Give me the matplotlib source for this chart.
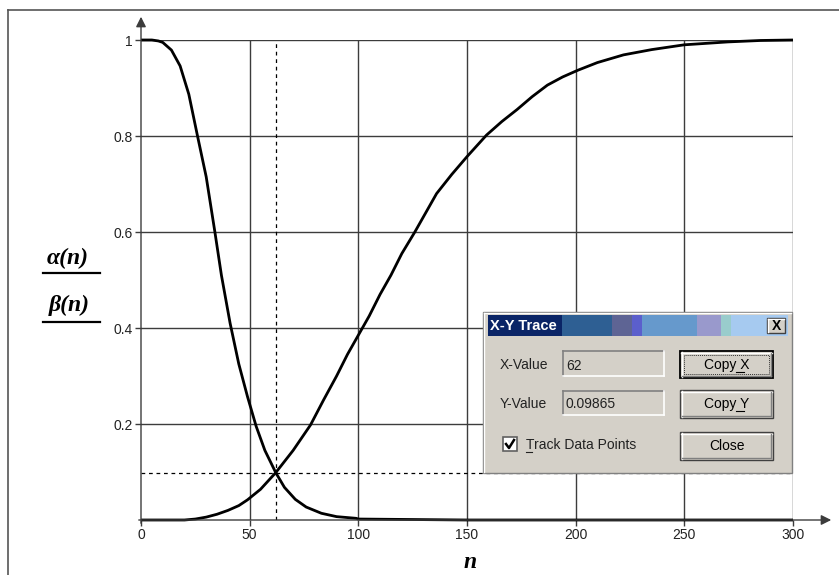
import matplotlib
matplotlib.use("Agg")
import matplotlib.pyplot as plt
from matplotlib.patches import Rectangle, FancyArrowPatch

# ---- data ----
n_alpha = [0, 5, 8, 10, 14, 18, 22, 26, 30, 34, 37, 41, 45, 49, 53, 57, 62, 66, 71, 76,
           83, 90, 99, 100, 150, 200, 250, 300]
alpha = [1.0, 1.0, 0.998, 0.995, 0.979, 0.946, 0.887, 0.80, 0.715, 0.60, 0.51, 0.41,
         0.325, 0.257, 0.195, 0.145, 0.0987, 0.068, 0.043, 0.027, 0.014, 0.007, 0.0035,
         0.002, 0.0, 0.0, 0.0, 0.0]
n_beta = [0, 20, 25, 30, 35, 40, 45, 49, 55, 62, 70, 78, 84, 90, 95, 100, 105, 110, 115,
          120, 126, 131, 136, 143, 150, 159, 166, 173, 180, 187, 194, 201, 210, 222, 235,
          250, 270, 285, 300]
beta = [0.0, 0.0, 0.002, 0.006, 0.012, 0.02, 0.03, 0.042, 0.064, 0.0987, 0.145, 0.198,
        0.25, 0.30, 0.345, 0.385, 0.425, 0.47, 0.51, 0.555, 0.60, 0.64, 0.68, 0.72, 0.757,
        0.802, 0.83, 0.855, 0.882, 0.906, 0.923, 0.937, 0.953, 0.969, 0.98, 0.99, 0.996,
        0.999, 1.0]
x_ticks = [0, 50, 100, 150, 200, 250, 300]
y_ticks = [0.2, 0.4, 0.6, 0.8, 1.0]
y_tick_labels = ["0.2", "0.4", "0.6", "0.8", "1"]
trace_x = 62
trace_y = 0.09865

W, H = 839, 575
fig = plt.figure(figsize=(W / 100, H / 100), dpi=100)
fig.patch.set_facecolor("white")

x0, x1 = 141, 793   # pixel of n=0, n=300
y0, y1 = 520, 40    # pixel of value 0, 1
ax = fig.add_axes([x0 / W, 1 - y0 / H, (x1 - x0) / W, (y0 - y1) / H])
ax.set_xlim(0, 300)
ax.set_ylim(0, 1)
for s in ax.spines.values():
    s.set_visible(False)
ax.set_facecolor("none")
grid_c = "#3c3c3c"
for xv in x_ticks[1:]:
    ax.axvline(xv, color=grid_c, lw=1.0, zorder=1)
for yv in y_ticks:
    ax.axhline(yv, color=grid_c, lw=1.0, zorder=1)
ax.set_xticks(x_ticks)
ax.set_xticklabels([str(v) for v in x_ticks])
ax.set_yticks(y_ticks)
ax.set_yticklabels(y_tick_labels)
ax.tick_params(axis="both", direction="out", length=4, width=1, color=grid_c,
               labelsize=10, pad=2)
for lab in ax.get_xticklabels() + ax.get_yticklabels():
    lab.set_family("Liberation Sans")
    lab.set_color("#222222")

# trace dashed lines
ax.plot([trace_x, trace_x], [0, 1], color="black", lw=0.9, ls=(0, (3, 3)), zorder=2)
ax.plot([0, 300], [trace_y, trace_y], color="black", lw=0.9, ls=(0, (3, 3)), zorder=2)

ax.plot(n_alpha, alpha, color="black", lw=2.0, zorder=3, clip_on=False, solid_capstyle="butt")
ax.plot(n_beta, beta, color="black", lw=2.0, zorder=3, clip_on=False, solid_capstyle="butt")

# ---- overlay in pixel coordinates ----
ov = fig.add_axes([0, 0, 1, 1], zorder=10)
ov.set_xlim(0, W)
ov.set_ylim(H, 0)
ov.axis("off")
ov.set_facecolor("none")

# frame
ov.plot([8, W], [10, 10], color="#555555", lw=1.2)
ov.plot([8, 8], [10, H], color="#555555", lw=1.2)

# axes with arrows
ov.add_patch(FancyArrowPatch((x0, 526), (x0, 14), arrowstyle="-|>,head_length=5,head_width=2.5",
                             color=grid_c, lw=1.0, mutation_scale=1.2))
ov.add_patch(FancyArrowPatch((136, y0), (834, y0), arrowstyle="-|>,head_length=5,head_width=2.5",
                             color=grid_c, lw=1.0, mutation_scale=1.2))

# y-axis labels
lab_kw = dict(ha="center", va="center", fontsize=17, color="black",
              family="Liberation Serif", fontweight="bold", fontstyle="italic")
ov.text(68, 258, "α(n)", **lab_kw)
ov.plot([43, 100], [273, 273], color="black", lw=1.6)
ov.text(69, 305, "β(n)", **lab_kw)
ov.plot([43, 100], [322, 322], color="black", lw=1.6)
# x-axis label
ov.text(470, 562, "n", **lab_kw)

# ---- X-Y Trace dialog ----
dlg_face = "#d4d0c8"
ov.add_patch(Rectangle((483, 312), 309, 161, facecolor=dlg_face, edgecolor="#808080", lw=1.0))
ov.plot([484, 791], [313, 313], color="white", lw=1)
ov.plot([484, 484], [313, 472], color="white", lw=1)
# title bar segments
segs = [(491, 562, "#0a2466"), (562, 612, "#2e5f93"), (612, 632, "#5e6494"),
        (632, 642, "#5b5fcc"), (642, 697, "#6699cc"), (697, 721, "#9999cc"),
        (721, 731, "#99cccc"), (731, 788, "#a6caf0")]
ov.add_patch(Rectangle((488, 315), 4, 21, facecolor="#0a2466", edgecolor="none"))
for a, b, c in segs:
    ov.add_patch(Rectangle((a, 315), b - a, 21, facecolor=c, edgecolor="none"))
ov.text(490, 325.5, "X-Y Trace", color="white", fontsize=10.5, fontweight="bold",
        family="Liberation Sans", va="center", ha="left")
# close button
ov.add_patch(Rectangle((767, 318), 18, 15, facecolor=dlg_face, edgecolor="#404040", lw=1))
ov.plot([768, 784], [319, 319], color="white", lw=1)
ov.plot([768, 768], [319, 332], color="white", lw=1)
ov.text(776, 325.5, "X", fontsize=10, fontweight="bold", ha="center", va="center",
        family="Liberation Sans", color="black")

def sunken(x, y, w, h):
    ov.add_patch(Rectangle((x, y), w, h, facecolor=dlg_face, edgecolor="none"))
    ov.plot([x, x + w], [y, y], color="#808080", lw=1.2)
    ov.plot([x, x], [y, y + h], color="#808080", lw=1.2)
    ov.plot([x, x + w], [y + h, y + h], color="white", lw=1.2)
    ov.plot([x + w, x + w], [y, y + h], color="white", lw=1.2)

def button(x, y, w, h, label, focus=False):
    ov.add_patch(Rectangle((x, y), w, h, facecolor=dlg_face,
                           edgecolor="black" if focus else "#404040", lw=1.3 if focus else 1.0))
    ov.plot([x + 1, x + w - 1], [y + 1.5, y + 1.5], color="white", lw=1)
    ov.plot([x + 1.5, x + 1.5], [y + 1, y + h - 1], color="white", lw=1)
    ov.plot([x + 2, x + w - 2], [y + h - 2, y + h - 2], color="#808080", lw=1)
    ov.plot([x + w - 2, x + w - 2], [y + 2, y + h - 2], color="#808080", lw=1)
    if focus:
        ov.add_patch(Rectangle((x + 4, y + 4), w - 8, h - 8, facecolor="none",
                               edgecolor="#333333", lw=0.7, ls=(0, (1, 1))))
    ov.text(x + w / 2, y + h / 2, label, fontsize=10, ha="center", va="center",
            family="Liberation Sans", color="black")

txt_kw = dict(fontsize=10, va="center", family="Liberation Sans", color="#222222")
ov.text(500, 365, "X-Value", **txt_kw)
sunken(563, 351, 101, 25)
ov.text(566, 370, "62", fontsize=10, va="baseline", family="Liberation Sans", color="#222222")
ov.text(500, 404, "Y-Value", **txt_kw)
sunken(563, 391, 101, 24)
ov.text(565, 408, "0.09865", fontsize=10, va="baseline", family="Liberation Sans", color="#222222")

# checkbox
ov.add_patch(Rectangle((503, 437), 14, 14, facecolor="white", edgecolor="#606060", lw=1.2))
ov.plot([506, 509, 514], [444, 448, 440], color="black", lw=1.8)
ov.text(526, 445, "Track Data Points", **txt_kw)
ov.plot([526, 532], [452, 452], color="#222222", lw=0.8)

button(680, 351, 93, 27, "Copy X", focus=True)
button(680, 390, 93, 28, "Copy Y")
button(680, 432, 93, 28, "Close")
ov.plot([736, 744], [372, 372], color="black", lw=0.8)
ov.plot([736, 744], [411, 411], color="black", lw=0.8)

fig.savefig("out.png", dpi=100, facecolor="white")
